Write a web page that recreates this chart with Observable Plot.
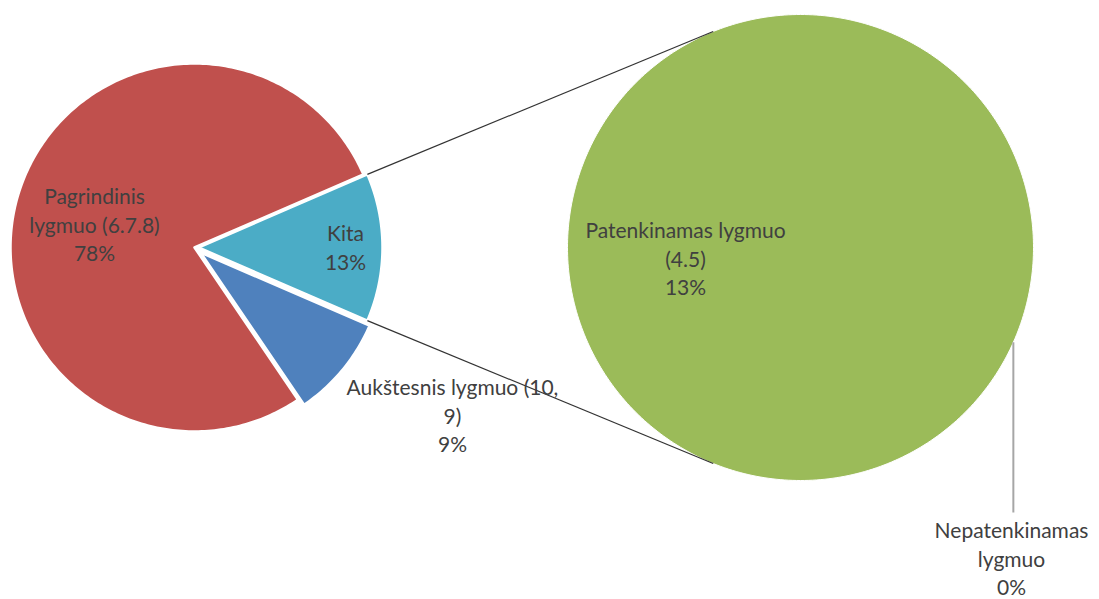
<!DOCTYPE html>
<html>
<head>
<meta charset="utf-8">
<script src="https://cdn.jsdelivr.net/npm/d3@7"></script>
<script src="https://cdn.jsdelivr.net/npm/@observablehq/plot@0.6"></script>
<style>
  html, body { margin: 0; padding: 0; background: #fff; }
  #chart { width: 1099px; height: 599px; }
</style>
</head>
<body>
<div id="chart"></div>
<script>
// ---- data ----
const leftCategories = ["Kita", "Aukštesnis lygmuo (10, 9)", "Pagrindinis lygmuo (6.7.8)"];
const leftValues = [13, 9, 78];
const leftLabels = ["Kita\n13%", "Aukštesnis lygmuo (10,\n9)\n9%", "Pagrindinis\nlygmuo (6.7.8)\n78%"];
const rightCategories = ["Patenkinamas lygmuo (4.5)", "Nepatenkinamas lygmuo"];
const rightValues = [13, 0];
const rightLabels = ["Patenkinamas lygmuo\n(4.5)\n13%", "Nepatenkinamas\nlygmuo\n0%"];

// ---- layout / style ----
const W = 1099, H = 599;
const leftPie = {cx: 194, cy: 247, r: 184};
const rightPie = {cx: 800, cy: 247, r: 233};
const leftColors = ["#4BACC6", "#4F81BD", "#C0504D"];
const rightColors = ["#9BBB59", "#8064A2"];
const leftExplode = [4, 8, 0];
const leftLabelPos = [[345, 255], [452, 423], [94, 232]];
const rightLabelPos = [[685, 266], [1011, 566]];
const leaderEndY = 512;
const fs = 21, lh = 29 / 21;
const deg = Math.PI / 180;

// slice angles (clockwise on screen, 0 = pointing right)
function slices(values, start) {
  const total = d3.sum(values);
  let a = start;
  return values.map(v => { const a0 = a; a += v / total * 360; return [a0, a]; });
}
const leftTotal = d3.sum(leftValues);
const leftAngles = slices(leftValues, -leftValues[0] / leftTotal * 180);
const rightAngles = slices(rightValues, 24 - 360);

function polygon(pie, a0, a1, explode, key) {
  const mid = (a0 + a1) / 2 * deg;
  const ox = pie.cx + explode * Math.cos(mid), oy = pie.cy + explode * Math.sin(mid);
  const pts = [];
  const full = a1 - a0 >= 359.999;
  if (!full) pts.push({key, x: ox, y: oy});
  const n = Math.max(2, Math.ceil((a1 - a0) / 1));
  for (let i = 0; i <= n; i++) {
    const a = (a0 + (a1 - a0) * i / n) * deg;
    pts.push({key, x: ox + pie.r * Math.cos(a), y: oy + pie.r * Math.sin(a)});
  }
  if (!full) pts.push({key, x: ox, y: oy});
  return pts;
}

const marks = [];
leftCategories.forEach((c, i) => {
  const [a0, a1] = leftAngles[i];
  if (a1 - a0 <= 0) return;
  marks.push(Plot.line(polygon(leftPie, a0, a1, leftExplode[i], c), {
    x: "x", y: "y", fill: leftColors[i], stroke: "white", strokeWidth: 2.5, strokeLinejoin: "round"
  }));
});
rightCategories.forEach((c, i) => {
  const [a0, a1] = rightAngles[i];
  if (a1 - a0 <= 0) return;
  marks.push(Plot.line(polygon(rightPie, a0, a1, 0, c), {
    x: "x", y: "y", fill: rightColors[i], stroke: "white", strokeWidth: 1
  }));
});

// connector lines from the "Kita" slice edges to the second pie
const [k0, k1] = leftAngles[0];
const kMid = (k0 + k1) / 2 * deg;
const kox = leftPie.cx + leftExplode[0] * Math.cos(kMid), koy = leftPie.cy + leftExplode[0] * Math.sin(kMid);
const connectors = [
  {x1: kox + leftPie.r * Math.cos(k0 * deg), y1: koy + leftPie.r * Math.sin(k0 * deg),
   x2: rightPie.cx + rightPie.r * Math.cos(-112 * deg), y2: rightPie.cy + rightPie.r * Math.sin(-112 * deg)},
  {x1: kox + leftPie.r * Math.cos(k1 * deg), y1: koy + leftPie.r * Math.sin(k1 * deg),
   x2: rightPie.cx + rightPie.r * Math.cos(112 * deg), y2: rightPie.cy + rightPie.r * Math.sin(112 * deg)}
];
marks.push(Plot.link(connectors, {x1: "x1", y1: "y1", x2: "x2", y2: "y2", stroke: "#333", strokeWidth: 1.2}));

// leader line for the 0% slice
const zeroA = rightAngles[1][0] * deg;
const lx = rightPie.cx + rightPie.r * Math.cos(zeroA);
const ly = rightPie.cy + rightPie.r * Math.sin(zeroA);
marks.push(Plot.link([{x1: lx, y1: ly, x2: lx, y2: leaderEndY}], {
  x1: "x1", y1: "y1", x2: "x2", y2: "y2", stroke: "#A6A6A6", strokeWidth: 2
}));

// labels
const off = 0.32 * lh * fs;
const labelData = [
  ...leftLabels.map((t, i) => ({t, x: leftLabelPos[i][0], y: leftLabelPos[i][1] - off})),
  ...rightLabels.map((t, i) => ({t, x: rightLabelPos[i][0], y: rightLabelPos[i][1] - off}))
];
marks.push(Plot.text(labelData, {
  x: "x", y: "y", text: "t", textAnchor: "middle", lineAnchor: "middle",
  lineHeight: lh, fontSize: fs, fill: "#404040", fontFamily: "Lato"
}));

const chart = Plot.plot({
  width: W, height: H,
  margin: 0, marginTop: 0, marginRight: 0, marginBottom: 0, marginLeft: 0,
  x: {domain: [0, W], axis: null},
  y: {domain: [0, H], reverse: true, axis: null},
  style: {background: "white", fontFamily: "Lato", overflow: "visible"},
  marks
});
document.getElementById("chart").appendChild(chart);
</script>
</body>
</html>
